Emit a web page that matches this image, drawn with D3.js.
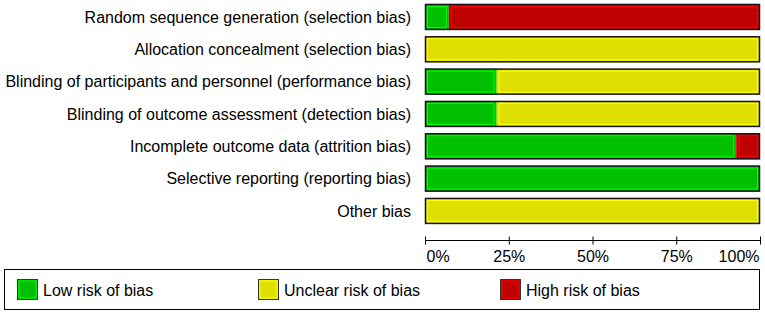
<!DOCTYPE html>
<html><head><meta charset="utf-8">
<script src="https://cdn.jsdelivr.net/npm/d3@7"></script>
<style>body{margin:0;background:#fff}svg{display:block}text{font-family:"Liberation Sans",Arial,sans-serif}</style>
</head><body><svg id="c" width="765" height="314"></svg>
<script>
const categories = [
  "Random sequence generation (selection bias)",
  "Allocation concealment (selection bias)",
  "Blinding of participants and personnel (performance bias)",
  "Blinding of outcome assessment (detection bias)",
  "Incomplete outcome data (attrition bias)",
  "Selective reporting (reporting bias)",
  "Other bias"
];
const lowRisk =     [7.1, 0, 21.4, 21.4, 92.9, 100, 0];
const unclearRisk = [0, 100, 78.6, 78.6, 0, 0, 100];
const highRisk =    [92.9, 0, 0, 0, 7.1, 0, 0];
const tickValues = [0, 25, 50, 75, 100];
const tickLabels = ["0%", "25%", "50%", "75%", "100%"];
const seriesNames = ["Low risk of bias", "Unclear risk of bias", "High risk of bias"];
const fills = ["#00c000", "#e0e000", "#c00000"];
const inner = ["#00ff00", "#ffff00", "#ff0000"];

const svg = d3.select("#c");
const x = d3.scaleLinear().domain([0, 100]).range([425, 760]);
const y = d3.scaleBand().domain(categories).range([0.8, 227.1]).paddingInner(0.196).paddingOuter(0.098);

const series = [lowRisk, unclearRisk, highRisk];
categories.forEach((c, i) => {
  let acc = 0;
  const g = svg.append("g");
  series.forEach((s, k) => {
    const v = s[i];
    if (v > 0) {
      g.append("rect").attr("x", x(acc)).attr("y", y(c)).attr("width", x(acc + v) - x(acc)).attr("height", y.bandwidth())
        .attr("fill", fills[k]);
      g.append("rect").attr("x", x(acc) + 2.5).attr("y", y(c) + 2.5).attr("width", Math.max(0, x(acc + v) - x(acc) - 5)).attr("height", y.bandwidth() - 5)
        .attr("fill", "none").attr("stroke", inner[k]).attr("stroke-width", 1);
    }
    acc += v;
  });
  g.append("rect").attr("x", x(0) + 0.5).attr("y", y(c) + 0.5).attr("width", x(100) - x(0) - 1).attr("height", y.bandwidth() - 1)
    .attr("fill", "none").attr("stroke", "#1a1320").attr("stroke-width", 1.5);
  svg.append("text").attr("x", 411).attr("y", y(c) + y.bandwidth() / 2).attr("dy", "0.35em")
    .attr("text-anchor", "end").attr("font-size", 16).attr("fill", "#000").text(c);
});

const axis = d3.axisBottom(x).tickValues(tickValues).tickFormat((d, i) => tickLabels[i]).tickSize(4).tickSizeOuter(0);
const ax = svg.append("g").attr("transform", "translate(0,240.5)").call(axis);
ax.select(".domain").attr("stroke", "#000").attr("d", `M${x(0)},0H${x(100)}`);
ax.selectAll(".tick line").attr("y1", -4).attr("y2", 4).attr("stroke", "#000");
ax.selectAll(".tick text").attr("font-size", 16).attr("font-family", "Liberation Sans, Arial, sans-serif").attr("y", 10).attr("fill", "#000");
ax.selectAll(".tick text").attr("text-anchor", (d) => d === 0 ? "start" : d === 100 ? "end" : "middle").attr("dx", d => d === 0 ? 1 : d === 100 ? -1 : 0);

svg.append("rect").attr("x", 4.5).attr("y", 269.5).attr("width", 755).attr("height", 40).attr("fill", "#fff").attr("stroke", "#000").attr("stroke-width", 1);
const legX = [17, 258, 500];
seriesNames.forEach((n, k) => {
  svg.append("rect").attr("x", legX[k] + 0.5).attr("y", 279.5).attr("width", 20).attr("height", 20).attr("fill", fills[k]).attr("stroke", "#333");
  svg.append("rect").attr("x", legX[k] + 2).attr("y", 281).attr("width", 17).attr("height", 17).attr("fill", "none").attr("stroke", inner[k]).attr("stroke-width", 1);
  svg.append("text").attr("x", legX[k] + 26).attr("y", 290).attr("dy", "0.35em").attr("font-size", 16).attr("fill", "#000").text(n);
});
</script></body></html>
